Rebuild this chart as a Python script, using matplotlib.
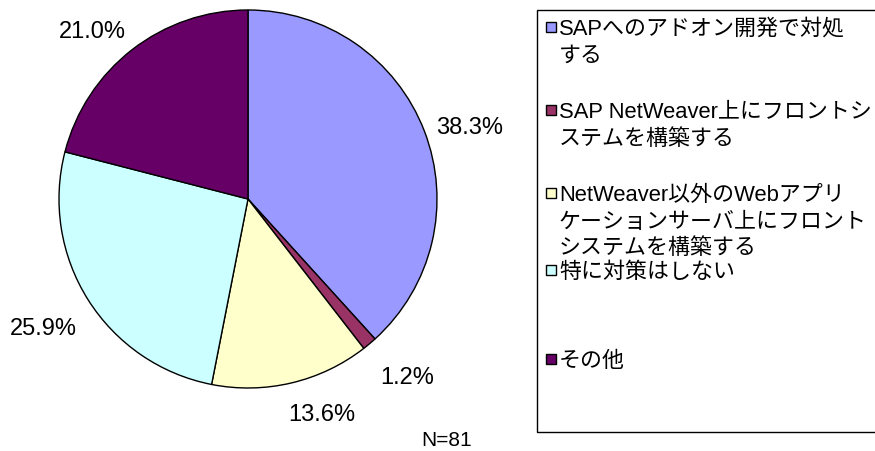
import matplotlib.pyplot as plt
from matplotlib.patches import Rectangle

plt.rcParams["font.family"] = ["Liberation Sans", "Noto Sans CJK JP", "DejaVu Sans"]

# 回答数 (N=81)
labels = [
    "SAPへのアドオン開発で対処\nする",
    "SAP NetWeaver上にフロントシ\nステムを構築する",
    "NetWeaver以外のWebアプリ\nケーションサーバ上にフロント\nシステムを構築する",
    "特に対策はしない",
    "その他",
]
counts = [31, 1, 11, 21, 17]
colors = ["#9999FF", "#993366", "#FFFFCC", "#CCFFFF", "#660066"]
n_total = sum(counts)

W, H = 875, 451
fig = plt.figure(figsize=(W / 100, H / 100), dpi=100)

# pie: center (248,199) px, radius 189 px
cx, cy, r = 248, 199, 189
ax = fig.add_axes([(cx - r) / W, (H - cy - r) / H, 2 * r / W, 2 * r / H])
wedges, texts, pcts = ax.pie(
    counts,
    colors=colors,
    startangle=90,
    counterclock=False,
    autopct="%1.1f%%",
    pctdistance=1.24,
    radius=1.0,
    wedgeprops=dict(edgecolor="black", linewidth=1.0),
    textprops=dict(fontsize=17, color="black"),
)
ax.set_xlim(-1, 1)
ax.set_ylim(-1, 1)
ax.set_aspect("equal")
ax.axis("off")

# nudge labels like the Excel layout (pixels, y up)
label_nudge = [(3, -13), (9, 1), (20, 12), (-6, -5), (-12, -18)]
for t, (dx, dy) in zip(pcts, label_nudge):
    x, y = t.get_position()
    t.set_position((x + dx / r, y + dy / r))

fig.text(447 / W, 1 - 440 / H, f"N={n_total}", fontsize=15, ha="center", va="center")

# legend box
fig.patches.append(Rectangle((537 / W, 1 - 432 / H), 400 / W, 422 / H,
                             transform=fig.transFigure, facecolor="white",
                             edgecolor="black", linewidth=1.0, zorder=0))
entry_y = [27, 110, 193, 270, 359]
line_h = 26.5
for lab, col, y0 in zip(labels, colors, entry_y):
    fig.patches.append(Rectangle((545.5 / W, 1 - (y0 + 5) / H), 10 / W, 10 / H,
                                 transform=fig.transFigure, facecolor=col,
                                 edgecolor="black", linewidth=1.0, zorder=2))
    for k, line in enumerate(lab.split("\n")):
        fig.text(559 / W, 1 - (y0 + k * line_h) / H, line, fontsize=15.8,
                 ha="left", va="center_baseline")

fig.savefig("out.png", dpi=100)
plt.close(fig)
